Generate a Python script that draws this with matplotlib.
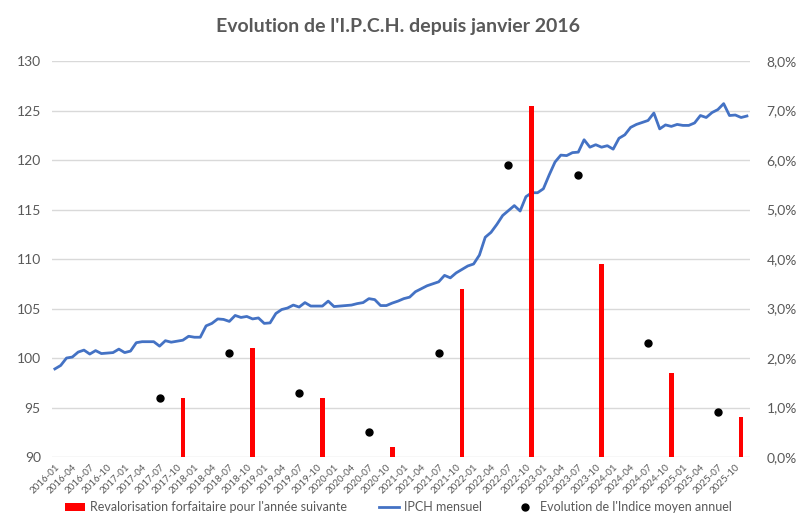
import numpy as np
import pandas as pd
import matplotlib
matplotlib.use("Agg")
import matplotlib.pyplot as plt
from matplotlib.ticker import FuncFormatter

plt.rcParams['font.family'] = ['Lato', 'DejaVu Sans']

# Monthly categories 2016-01 .. 2025-12
months = [p.strftime('%Y-%m') for p in pd.period_range('2016-01', '2025-12', freq='M')]

# IPCH mensuel
ipch = [
    98.9, 99.25, 100.0, 100.1, 100.6, 100.8, 100.4, 100.75, 100.45, 100.5, 100.55, 100.9,
    100.55, 100.7, 101.55, 101.65, 101.65, 101.65, 101.2, 101.75, 101.6, 101.7, 101.8, 102.2,
    102.1, 102.1, 103.25, 103.5, 103.95, 103.9, 103.7, 104.3, 104.1, 104.2, 103.95, 104.05,
    103.5, 103.55, 104.5, 104.9, 105.05, 105.35, 105.15, 105.6, 105.25, 105.25, 105.25, 105.75,
    105.2, 105.25, 105.3, 105.35, 105.5, 105.6, 106.0, 105.9, 105.3, 105.3, 105.55, 105.75,
    106.0, 106.15, 106.7, 107.0, 107.3, 107.5, 107.7, 108.35, 108.1, 108.6, 108.95, 109.3,
    109.5, 110.4, 112.2, 112.7, 113.5, 114.4, 114.9, 115.4, 114.85, 116.3, 116.7, 116.7,
    117.1, 118.5, 119.8, 120.5, 120.45, 120.75, 120.8, 122.05, 121.3, 121.55, 121.3, 121.45,
    121.1, 122.2, 122.55, 123.3, 123.6, 123.8, 124.0, 124.75, 123.15, 123.55, 123.4, 123.6,
    123.5, 123.5, 123.75, 124.5, 124.3, 124.8, 125.1, 125.7, 124.5, 124.55, 124.3, 124.45,
]

# Revalorisation forfaitaire pour l'année suivante (%)
bar_months = ['2017-11', '2018-11', '2019-11', '2020-11', '2021-11',
              '2022-11', '2023-11', '2024-11', '2025-11']
bar_values = [1.2, 2.2, 1.2, 0.2, 3.4, 7.1, 3.9, 1.7, 0.8]

# Evolution de l'indice moyen annuel (%)
dot_months = ['2017-07', '2018-07', '2019-07', '2020-07', '2021-07',
              '2022-07', '2023-07', '2024-07', '2025-07']
dot_values = [1.2, 2.1, 1.3, 0.5, 2.1, 5.9, 5.7, 2.3, 0.9]

x = np.arange(len(months))
bar_x = [months.index(m) for m in bar_months]
dot_x = [months.index(m) for m in dot_months]

grey = '#595959'

fig = plt.figure(figsize=(7.96, 5.22), dpi=100)
ax = fig.add_axes([0.0653, 0.1245, 0.8767, 0.7585])
ax2 = ax.twinx()

line, = ax.plot(x, ipch, color='#4472C4', lw=2, label='IPCH mensuel')
bars = ax2.bar(bar_x, bar_values, width=0.8, color='#FF0000',
               label="Revalorisation forfaitaire pour l'année suivante")
dots, = ax2.plot(dot_x, dot_values, 'o', color='black', ms=5,
                 label="Evolution de l'Indice moyen annuel")

ax.set_xlim(-0.5, len(months) - 0.5)
ax.set_ylim(90, 130)
ax.set_yticks(np.arange(90, 131, 5))
ax2.set_ylim(0, 8)
ax2.set_yticks(np.arange(0, 8.1, 1))
ax2.yaxis.set_major_formatter(FuncFormatter(lambda v, p: f'{v:.1f}%'.replace('.', ',')))

ax.grid(axis='y', color='#D9D9D9', lw=1)
ax.set_axisbelow(True)
for a in (ax, ax2):
    for s in a.spines.values():
        s.set_visible(False)
    a.tick_params(length=0, colors=grey, labelsize=10)

ax.set_xticks(x[::3])
ax.set_xticklabels(months[::3], rotation=45, ha='right', rotation_mode='anchor', fontsize=7)
ax.tick_params(axis='x', pad=4)
ax.tick_params(axis='y', pad=8)
ax2.tick_params(axis='y', pad=12)

fig.suptitle("Evolution de l'I.P.C.H. depuis janvier 2016", x=0.5, y=0.965,
             fontsize=14, fontweight='bold', color=grey)

fig.legend(handles=[bars, line, dots], loc='lower center', bbox_to_anchor=(0.5, -0.005),
           ncol=3, frameon=False, fontsize=9, labelcolor=grey,
           handlelength=1.6, handletextpad=0.4, columnspacing=2.6)

fig.savefig('out.png', dpi=100)
